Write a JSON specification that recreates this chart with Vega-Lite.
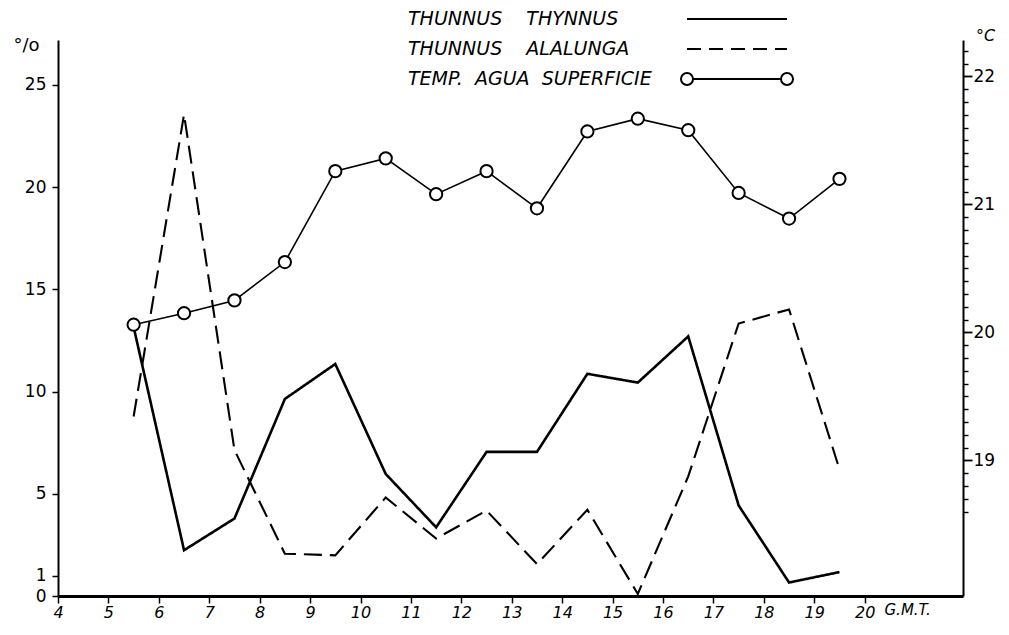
{
  "$schema": "https://vega.github.io/schema/vega-lite/v6.json",
  "width": 905,
  "height": 556,
  "autosize": {"type": "none"},
  "padding": {"left": 58, "top": 40, "right": 46, "bottom": 39},
  "background": "white",
  "config": {
    "view": {"stroke": null},
    "axis": {"grid": false, "domainColor": "black", "tickColor": "black", "labelColor": "black", "titleColor": "black", "labelFont": "DejaVu Sans", "titleFont": "DejaVu Sans"}
  },
  "datasets": {
    "fish": [
      {"hour": 5.5, "species": "THUNNUS\u00a0\u00a0\u00a0\u00a0THYNNUS", "pct": 13.16},
      {"hour": 6.5, "species": "THUNNUS\u00a0\u00a0\u00a0\u00a0THYNNUS", "pct": 2.24},
      {"hour": 7.5, "species": "THUNNUS\u00a0\u00a0\u00a0\u00a0THYNNUS", "pct": 3.79},
      {"hour": 8.5, "species": "THUNNUS\u00a0\u00a0\u00a0\u00a0THYNNUS", "pct": 9.64},
      {"hour": 9.5, "species": "THUNNUS\u00a0\u00a0\u00a0\u00a0THYNNUS", "pct": 11.35},
      {"hour": 10.5, "species": "THUNNUS\u00a0\u00a0\u00a0\u00a0THYNNUS", "pct": 5.97},
      {"hour": 11.5, "species": "THUNNUS\u00a0\u00a0\u00a0\u00a0THYNNUS", "pct": 3.36},
      {"hour": 12.5, "species": "THUNNUS\u00a0\u00a0\u00a0\u00a0THYNNUS", "pct": 7.05},
      {"hour": 13.5, "species": "THUNNUS\u00a0\u00a0\u00a0\u00a0THYNNUS", "pct": 7.05},
      {"hour": 14.5, "species": "THUNNUS\u00a0\u00a0\u00a0\u00a0THYNNUS", "pct": 10.87},
      {"hour": 15.5, "species": "THUNNUS\u00a0\u00a0\u00a0\u00a0THYNNUS", "pct": 10.44},
      {"hour": 16.5, "species": "THUNNUS\u00a0\u00a0\u00a0\u00a0THYNNUS", "pct": 12.7},
      {"hour": 17.5, "species": "THUNNUS\u00a0\u00a0\u00a0\u00a0THYNNUS", "pct": 4.43},
      {"hour": 18.5, "species": "THUNNUS\u00a0\u00a0\u00a0\u00a0THYNNUS", "pct": 0.66},
      {"hour": 19.5, "species": "THUNNUS\u00a0\u00a0\u00a0\u00a0THYNNUS", "pct": 1.17},
      {"hour": 5.5, "species": "THUNNUS\u00a0\u00a0\u00a0\u00a0ALALUNGA", "pct": 8.78},
      {"hour": 6.5, "species": "THUNNUS\u00a0\u00a0\u00a0\u00a0ALALUNGA", "pct": 23.56},
      {"hour": 7.5, "species": "THUNNUS\u00a0\u00a0\u00a0\u00a0ALALUNGA", "pct": 7.14},
      {"hour": 8.5, "species": "THUNNUS\u00a0\u00a0\u00a0\u00a0ALALUNGA", "pct": 2.07},
      {"hour": 9.5, "species": "THUNNUS\u00a0\u00a0\u00a0\u00a0ALALUNGA", "pct": 1.99},
      {"hour": 10.5, "species": "THUNNUS\u00a0\u00a0\u00a0\u00a0ALALUNGA", "pct": 4.82},
      {"hour": 11.5, "species": "THUNNUS\u00a0\u00a0\u00a0\u00a0ALALUNGA", "pct": 2.81},
      {"hour": 12.5, "species": "THUNNUS\u00a0\u00a0\u00a0\u00a0ALALUNGA", "pct": 4.18},
      {"hour": 13.5, "species": "THUNNUS\u00a0\u00a0\u00a0\u00a0ALALUNGA", "pct": 1.56},
      {"hour": 14.5, "species": "THUNNUS\u00a0\u00a0\u00a0\u00a0ALALUNGA", "pct": 4.22},
      {"hour": 15.5, "species": "THUNNUS\u00a0\u00a0\u00a0\u00a0ALALUNGA", "pct": 0.1},
      {"hour": 16.5, "species": "THUNNUS\u00a0\u00a0\u00a0\u00a0ALALUNGA", "pct": 5.85},
      {"hour": 17.5, "species": "THUNNUS\u00a0\u00a0\u00a0\u00a0ALALUNGA", "pct": 13.33},
      {"hour": 18.5, "species": "THUNNUS\u00a0\u00a0\u00a0\u00a0ALALUNGA", "pct": 14.02},
      {"hour": 19.5, "species": "THUNNUS\u00a0\u00a0\u00a0\u00a0ALALUNGA", "pct": 6.2}
    ],
    "temp": [
      {"hour": 5.5, "temp": 20.06},
      {"hour": 6.5, "temp": 20.15},
      {"hour": 7.5, "temp": 20.25},
      {"hour": 8.5, "temp": 20.55},
      {"hour": 9.5, "temp": 21.26},
      {"hour": 10.5, "temp": 21.36},
      {"hour": 11.5, "temp": 21.08},
      {"hour": 12.5, "temp": 21.26},
      {"hour": 13.5, "temp": 20.97},
      {"hour": 14.5, "temp": 21.57},
      {"hour": 15.5, "temp": 21.67},
      {"hour": 16.5, "temp": 21.58},
      {"hour": 17.5, "temp": 21.09},
      {"hour": 18.5, "temp": 20.89},
      {"hour": 19.5, "temp": 21.2}
    ]
  },
  "layer": [
    {
      "data": {"name": "fish"},
      "mark": {"type": "line", "color": "black", "strokeCap": "butt", "strokeJoin": "miter"},
      "encoding": {
        "x": {"field": "hour", "type": "quantitative", "scale": {"domain": [4, 21.95], "nice": false, "zero": false},
          "axis": {"values": [4,5,6,7,8,9,10,11,12,13,14,15,16,17,18,19,20], "title": "G.M.T.", "titleX": 826, "titleY": 13, "titleAlign": "left", "titleBaseline": "middle", "titleAngle": 0, "titleFontStyle": "italic", "titleFontWeight": "normal", "titleFontSize": 15, "domainWidth": 3, "tickSize": 7, "tickWidth": 1.5, "labelFontSize": 16, "labelFontStyle": "italic", "labelPadding": 1, "labelFlush": false}},
        "y": {"field": "pct", "type": "quantitative", "scale": {"domain": [0, 27.2], "nice": false, "zero": false},
          "axis": {"values": [0, 1, 5, 10, 15, 20, 25], "title": "°/o", "titleX": -32, "titleY": 5, "titleAngle": 0, "titleAlign": "center", "titleBaseline": "middle", "titleFontSize": 18, "titleFontWeight": "normal", "domainWidth": 2, "tickSize": 6, "tickWidth": 1.5, "labelFontSize": 17, "labelPadding": 6}},
        "strokeDash": {"field": "species", "type": "nominal", "scale": {"domain": ["THUNNUS\u00a0\u00a0\u00a0\u00a0THYNNUS", "THUNNUS\u00a0\u00a0\u00a0\u00a0ALALUNGA"], "range": [[1, 0], [18, 8]]}, "legend": null},
        "strokeWidth": {"field": "species", "type": "nominal", "scale": {"domain": ["THUNNUS\u00a0\u00a0\u00a0\u00a0THYNNUS", "THUNNUS\u00a0\u00a0\u00a0\u00a0ALALUNGA"], "range": [2.6, 2.1]}, "legend": null}
      }
    },
    {
      "data": {"name": "fish"},
      "mark": {"type": "point", "opacity": 0},
      "encoding": {
        "x": {"field": "hour", "type": "quantitative"},
        "y": {"field": "pct", "type": "quantitative", "scale": {"domain": [0, 27.2], "nice": false, "zero": false}, "axis": null},
        "shape": {"field": "species", "type": "nominal",
          "scale": {"domain": ["THUNNUS\u00a0\u00a0\u00a0\u00a0THYNNUS", "THUNNUS\u00a0\u00a0\u00a0\u00a0ALALUNGA", "TEMP.\u00a0\u00a0AGUA\u00a0\u00a0SUPERFICIE"],
            "range": ["M-5,0H5", "M-5,0H-3.6M-2.8,0H-1.4M-0.6,0H0.8M1.6,0H3M3.8,0H5", "M-5.6,0a0.6,0.6 0 1,0 1.2,0a0.6,0.6 0 1,0 -1.2,0M-4.4,0H4.4M4.4,0a0.6,0.6 0 1,0 1.2,0a0.6,0.6 0 1,0 -1.2,0"]},
          "legend": {"orient": "none", "legendX": 668, "legendY": -32, "title": null, "padding": 0, "symbolOpacity": 1, "symbolStrokeColor": "black", "symbolFillColor": "transparent", "symbolStrokeWidth": 2, "symbolSize": 400, "labelAlign": "left", "labelOffset": -340, "labelLimit": 0, "labelFont": "DejaVu Sans", "labelFontStyle": "italic", "labelFontSize": 19, "labelColor": "black", "rowPadding": 9}}
      }
    },
    {
      "data": {"name": "temp"},
      "mark": {"type": "line", "color": "black", "strokeWidth": 1.6, "point": {"filled": false, "fill": "white", "stroke": "black", "strokeWidth": 2, "size": 150, "opacity": 1}},
      "encoding": {
        "x": {"field": "hour", "type": "quantitative"},
        "y": {"field": "temp", "type": "quantitative", "scale": {"domain": [17.94, 22.285], "nice": false, "zero": false},
          "axis": {"orient": "right", "values": [18.6,18.7,18.8,18.9,19,19.1,19.2,19.3,19.4,19.5,19.6,19.7,19.8,19.9,20,20.1,20.2,20.3,20.4,20.5,20.6,20.7,20.8,20.9,21,21.1,21.2,21.3,21.4,21.5,21.6,21.7,21.8,21.9,22,22.1,22.2],
            "labelExpr": "datum.value % 1 === 0 ? format(datum.value, 'd') : ''", "labelOverlap": false,
            "tickSize": {"condition": {"test": "datum.value % 1 === 0", "value": 9}, "value": 5},
            "tickWidth": {"condition": {"test": "datum.value % 1 === 0", "value": 1.8}, "value": 1.4},
            "title": "°C", "titleX": 22, "titleY": -5, "titleAngle": 0, "titleAlign": "center", "titleBaseline": "middle", "titleFontSize": 16, "titleFontWeight": "normal", "titleFontStyle": "italic", "domainWidth": 2, "labelFontSize": 17, "labelPadding": 1}}
      }
    }
  ],
  "resolve": {"scale": {"y": "independent"}}
}
